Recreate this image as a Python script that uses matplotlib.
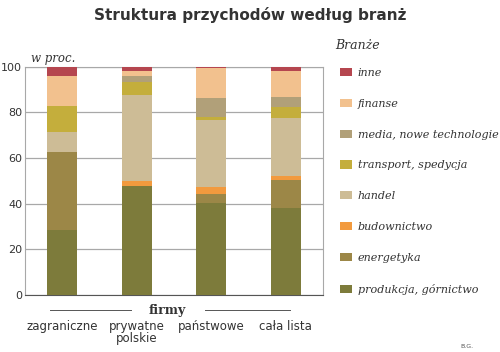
import matplotlib
matplotlib.use("Agg")
import matplotlib.pyplot as plt
import numpy as np

# dane (w proc.)
firmy = ["zagraniczne", "prywatne\npolskie", "państwowe", "cała lista"]
branze = ["produkcja, górnictwo", "energetyka", "budownictwo", "handel",
          "transport, spedycja", "media, nowe technologie", "finanse", "inne"]
kolory = ["#7d7b3b", "#9c8747", "#f29a3e", "#cdbc96",
          "#c4ae3c", "#b1a079", "#f2c18e", "#b5464f"]

produkcja = [28.7, 47.7, 40.3, 38.1]
energetyka = [33.9, 0.0, 3.8, 12.1]
budownictwo = [0.0, 2.1, 3.2, 1.9]
handel = [8.7, 37.8, 29.6, 25.3]
transport = [11.5, 5.8, 1.3, 4.8]
media = [0.0, 2.7, 8.0, 4.8]
finanse = [13.3, 2.2, 13.1, 11.2]
inne = [3.9, 1.7, 0.7, 2.0]

serie = [produkcja, energetyka, budownictwo, handel, transport, media, finanse, inne]

fig = plt.figure(figsize=(5, 3.52), dpi=100)
ax = fig.add_axes([0.05, 0.162, 0.596, 0.648])

x = np.arange(len(firmy))
dol = np.zeros(len(firmy))
for vals, c, lab in zip(serie, kolory, branze):
    ax.bar(x, vals, bottom=dol, width=0.4, color=c, label=lab, zorder=3)
    dol += np.array(vals)

ax.set_xlim(-0.5, 3.5)
ax.set_ylim(0, 100)
ax.set_yticks([0, 20, 40, 60, 80, 100])
ax.yaxis.grid(True, color="#a8a8a8", lw=0.9, zorder=0)
for s in ["left", "right", "top"]:
    ax.spines[s].set_color("#a8a8a8")
ax.spines["bottom"].set_color("#555555")
ax.tick_params(axis="both", length=0, labelsize=8.5, colors="#333333")
ax.tick_params(axis="y", pad=2, labelsize=8)
ax.tick_params(axis="x", pad=18)
ax.set_xticks(x)
ax.set_xticklabels(firmy, linespacing=0.95)

ax.text(0.02, 1.01, "w proc.", transform=ax.transAxes, family="DejaVu Serif",
        style="italic", fontsize=8.5, color="#333333", va="bottom")

fig.text(0.5, 0.958, "Struktura przychodów według branż", ha="center", va="center",
         fontsize=11, fontweight="bold", color="#333333")

# firmy
fig.text(0.334, 0.118, "firmy", ha="center", va="center", family="DejaVu Serif",
         fontweight="bold", fontsize=9, color="#333333")
fig.add_artist(plt.Line2D([0.1, 0.262], [0.118, 0.118], color="#555555", lw=0.7))
fig.add_artist(plt.Line2D([0.41, 0.58], [0.118, 0.118], color="#555555", lw=0.7))

# legenda
h, l = ax.get_legend_handles_labels()
leg = fig.legend(h[::-1], l[::-1], loc="upper left", bbox_to_anchor=(0.66, 0.835),
                 frameon=False, handlelength=1.05, handleheight=0.75, labelspacing=1.87,
                 handletextpad=0.55, prop={"family": "DejaVu Serif", "style": "italic", "size": 8})
for t in leg.get_texts():
    t.set_color("#333333")
fig.text(0.67, 0.87, "Branże", family="DejaVu Serif", style="italic", fontsize=9,
         color="#333333", va="center")

fig.text(0.92, 0.012, "B.G.", fontsize=4.5, color="#555555")

plt.savefig("out.png", dpi=100)
